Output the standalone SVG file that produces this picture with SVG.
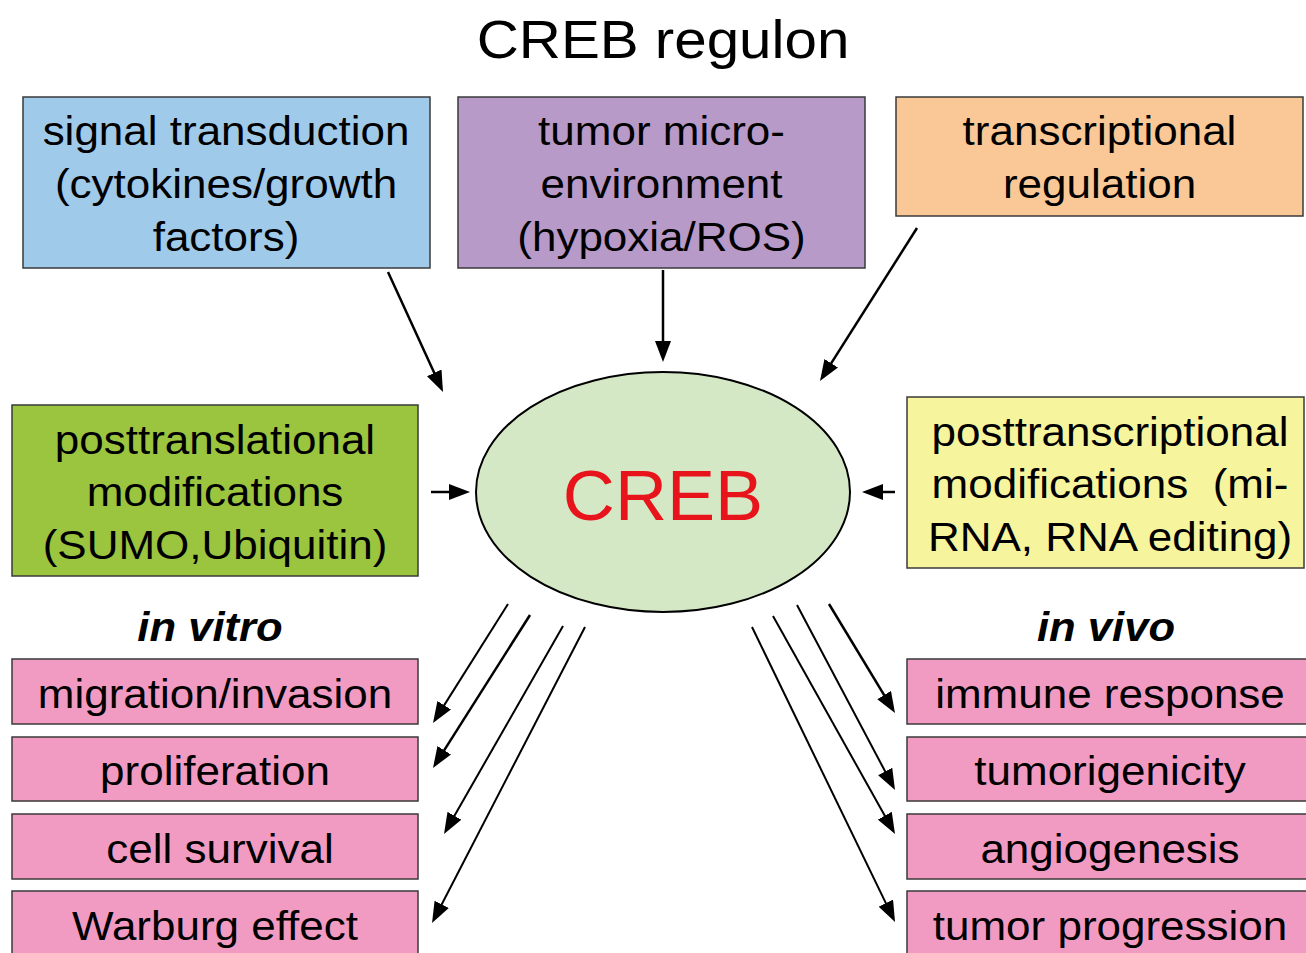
<svg xmlns="http://www.w3.org/2000/svg" width="1306" height="953" viewBox="0 0 1306 953">
<defs>
<style>
.t{font-family:"Liberation Sans",Arial,sans-serif;font-size:40px;fill:#000;text-anchor:middle}
.bx{stroke:#3a3a3a;stroke-width:1.5}
.ar{fill:none;stroke:#000;stroke-width:2.5;marker-end:url(#ah)}
.ar2{fill:none;stroke:#000;stroke-width:2;marker-end:url(#ah)}
</style>
<marker id="ah" viewBox="0 0 21 16" refX="15" refY="8" markerWidth="21" markerHeight="16" markerUnits="userSpaceOnUse" orient="auto">
<path d="M0,0 L21,8 L0,16 Z" fill="#000"/>
</marker>
</defs>
<rect width="1306" height="953" fill="#fff"/>
<g id="title">
<text class="t" style="font-size:53px" transform="translate(663,58) scale(1.1,1)">CREB regulon</text>
</g>
<g id="signal">
<rect class="bx" x="23" y="97" width="407" height="171" fill="#A0CAEA"/>
<text class="t" transform="translate(226,145) scale(1.1,1)"><tspan x="0" y="0">signal transduction</tspan><tspan x="0" y="53">(cytokines/growth</tspan><tspan x="0" y="106">factors)</tspan></text>
</g>
<g id="tumor">
<rect class="bx" x="458" y="97" width="407" height="171" fill="#B79AC8"/>
<text class="t" transform="translate(661.5,145) scale(1.1,1)"><tspan x="0" y="0">tumor micro-</tspan><tspan x="0" y="53">environment</tspan><tspan x="0" y="106">(hypoxia/ROS)</tspan></text>
</g>
<g id="transcriptional">
<rect class="bx" x="896" y="97" width="407" height="119" fill="#FAC896"/>
<text class="t" transform="translate(1099.5,145) scale(1.1,1)"><tspan x="0" y="0">transcriptional</tspan><tspan x="0" y="53">regulation</tspan></text>
</g>
<g id="posttranslational">
<rect class="bx" x="12" y="405" width="406" height="171" fill="#9BC43F"/>
<text class="t" transform="translate(215,454) scale(1.1,1)"><tspan x="0" y="0">posttranslational</tspan><tspan x="0" y="52">modifications</tspan><tspan x="0" y="105">(SUMO,Ubiquitin)</tspan></text>
</g>
<g id="posttranscriptional">
<rect class="bx" x="907" y="397" width="397" height="171" fill="#F7F49E"/>
<text class="t" transform="translate(1110,446) scale(1.1,1)"><tspan x="0" y="0">posttranscriptional</tspan><tspan x="0" y="52">modifications&#160; (mi-</tspan><tspan x="0" y="105">RNA, RNA editing)</tspan></text>
</g>
<g id="creb">
<ellipse cx="663" cy="492" rx="187" ry="120" fill="#D4E8C6" stroke="#000" stroke-width="2"/>
<text class="t" style="font-size:70px;fill:#E8141B" transform="translate(663,520) scale(1.03,1)">CREB</text>
</g>
<g id="invitro">
<text class="t" style="font-weight:bold;font-style:italic" transform="translate(210,641) scale(1.09,1)">in vitro</text>
</g>
<g id="invivo">
<text class="t" style="font-weight:bold;font-style:italic" transform="translate(1106,641) scale(1.09,1)">in vivo</text>
</g>
<g id="migration">
<rect class="bx" x="12" y="659" width="406" height="65" fill="#F29BC2"/>
<text class="t" transform="translate(215,708) scale(1.1,1)">migration/invasion</text>
</g>
<g id="proliferation">
<rect class="bx" x="12" y="737" width="406" height="64" fill="#F29BC2"/>
<text class="t" transform="translate(215,785) scale(1.1,1)">proliferation</text>
</g>
<g id="survival">
<rect class="bx" x="12" y="814" width="406" height="65" fill="#F29BC2"/>
<text class="t" transform="translate(220,863) scale(1.1,1)">cell survival</text>
</g>
<g id="warburg">
<rect class="bx" x="12" y="891" width="406" height="70" fill="#F29BC2"/>
<text class="t" transform="translate(215,940) scale(1.1,1)">Warburg effect</text>
</g>
<g id="immune">
<rect class="bx" x="907" y="659" width="406" height="65" fill="#F29BC2"/>
<text class="t" transform="translate(1110,708) scale(1.1,1)">immune response</text>
</g>
<g id="tumorigenicity">
<rect class="bx" x="907" y="737" width="406" height="64" fill="#F29BC2"/>
<text class="t" transform="translate(1110,785) scale(1.1,1)">tumorigenicity</text>
</g>
<g id="angiogenesis">
<rect class="bx" x="907" y="814" width="406" height="65" fill="#F29BC2"/>
<text class="t" transform="translate(1110,863) scale(1.1,1)">angiogenesis</text>
</g>
<g id="progression">
<rect class="bx" x="907" y="891" width="406" height="70" fill="#F29BC2"/>
<text class="t" transform="translate(1110,940) scale(1.1,1)">tumor progression</text>
</g>
<g id="connectors">
<path class="ar" d="M388,272 L440.5,386.5"/>
<path class="ar" d="M663,270 L663,356"/>
<path class="ar" d="M917,228 L823.2,375.9"/>
<path class="ar" d="M431,492 L464,492"/>
<path class="ar" d="M895,492 L868,492"/>
<path class="ar2" d="M508,604 L436.2,717.9"/>
<path class="ar" d="M530,615 L436.2,762.9"/>
<path class="ar2" d="M563,626 L447,828.8"/>
<path class="ar2" d="M585,627 L434.8,917.7"/>
<path class="ar" d="M829,604 L891.9,707.9"/>
<path class="ar2" d="M797,605 L892.2,784.7"/>
<path class="ar2" d="M773,616 L892.1,828.8"/>
<path class="ar2" d="M752,627 L892.4,916.6"/>
</g>
</svg>
